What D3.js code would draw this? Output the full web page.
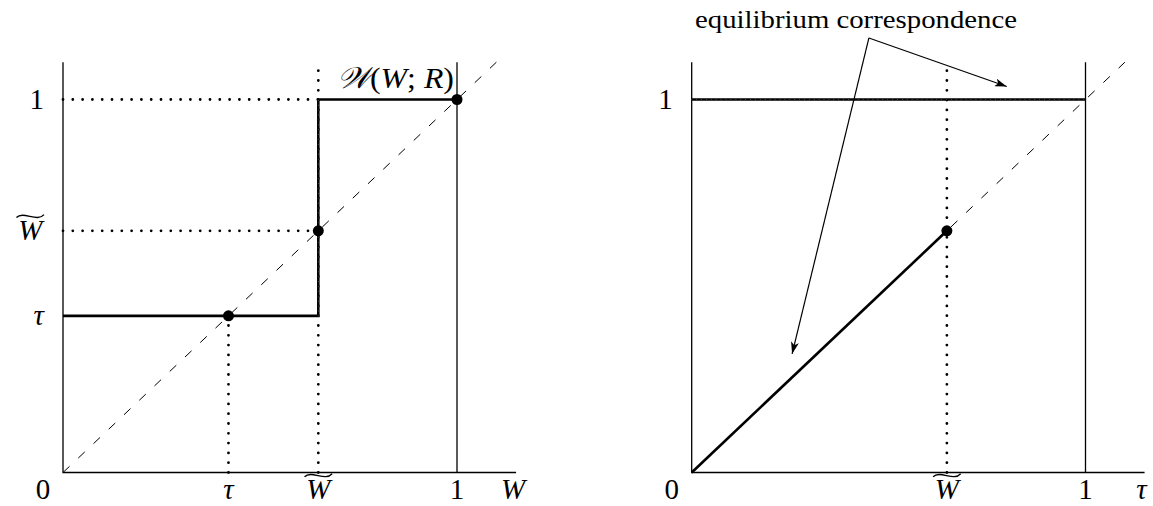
<!DOCTYPE html>
<html>
<head>
<meta charset="utf-8">
<script src="https://cdn.jsdelivr.net/npm/d3@7"></script>
<style>
  html, body { margin: 0; padding: 0; background: #fff; }
  svg text { font-family: "Liberation Serif", "DejaVu Serif", serif; fill: #000; }
</style>
</head>
<body>
<div id="chart"></div>
<script>
// values
const tau = 0.42;
const wTilde = 0.648;
const axisMax = { x: 1.15, y: 1.1 };
const diagMax = 1.1;

// left panel: the map W -> W(W;R)
const leftStep = [[0, tau], [wTilde, tau], [wTilde, 1], [1, 1]];
const leftDots = [[tau, tau], [wTilde, wTilde], [1, 1]];
const leftYTicks = [{ v: 1, t: '1' }, { v: wTilde, t: 'Wt' }, { v: tau, t: 'τ' }];
const leftXTicks = [{ v: tau, t: 'τ' }, { v: wTilde, t: 'Wt' }, { v: 1, t: '1' }];

// right panel: equilibrium correspondence
const rightTop = [[0, 1], [1, 1]];
const rightDiag = [[0, 0], [wTilde, wTilde]];
const rightDots = [[wTilde, wTilde]];
const rightXTicks = [{ v: wTilde, t: 'Wt' }, { v: 1, t: '1' }];
const rightYTicks = [{ v: 1, t: '1' }];
const noteApex = [0.45, 1.165];
const noteTargets = [[0.80, 1.035], [0.255, 0.318]];

const width = 1153, height = 506;
const fs = 29;
const svg = d3.select('#chart').append('svg')
    .attr('width', width).attr('height', height);

svg.append('defs').append('marker')
    .attr('id', 'arrow')
    .attr('viewBox', '0 0 12 8')
    .attr('refX', 12).attr('refY', 4)
    .attr('markerWidth', 12).attr('markerHeight', 8)
    .attr('markerUnits', 'userSpaceOnUse')
    .attr('orient', 'auto')
    .append('path').attr('d', 'M0,0 L12,4 L0,8 L3,4 Z').attr('fill', '#000');

const line = (x, y) => d3.line().x(d => x(d[0])).y(d => y(d[1]));

// label helper: W with a wide tilde drawn on top
const drawLabel = (g, t, px, py, anchor) => {
    if (t === 'Wt') {
        const w = fs * 0.95;
        const cx = anchor === 'end' ? px - w / 2 : px;
        g.append('text').attr('x', cx).attr('y', py)
            .attr('text-anchor', 'middle').style('font-style', 'italic')
            .style('font-size', fs + 'px').text('W');
        const top = py - fs * 0.8;
        g.append('path')
            .attr('d', `M${cx - w / 2},${top + 1} C${cx - w / 4},${top - 6} ${cx + w / 4},${top + 6} ${cx + w / 2},${top - 2}`)
            .attr('fill', 'none').attr('stroke', '#000').attr('stroke-width', 1.4);
    } else {
        g.append('text').attr('x', px).attr('y', py)
            .attr('text-anchor', anchor)
            .style('font-style', t === '1' || t === '0' ? 'normal' : 'italic')
            .style('font-size', fs + 'px').text(t);
    }
};

const drawPanel = (opts) => {
    const { x0, x1 } = opts;
    const x = d3.scaleLinear().domain([0, 1]).range([x0, x1]);
    const y = d3.scaleLinear().domain([0, 1]).range([472.5, 99.5]);
    const g = svg.append('g');
    const ln = line(x, y);

    // dashed 45 degree line
    g.append('path').datum([[0, 0], [diagMax, diagMax]]).attr('d', ln)
        .attr('fill', 'none').attr('stroke', '#000').attr('stroke-width', 1)
        .attr('stroke-dasharray', '9 12');

    // axes
    g.append('path').datum([[0, axisMax.y], [0, 0], [axisMax.x, 0]]).attr('d', ln)
        .attr('fill', 'none').attr('stroke', '#000').attr('stroke-width', 1.3);
    g.append('path').datum([[1, 0], [1, axisMax.y]]).attr('d', ln)
        .attr('fill', 'none').attr('stroke', '#000').attr('stroke-width', 1.3);

    // dotted guides
    g.selectAll('.guide').data(opts.guides).join('path').attr('class', 'guide')
        .attr('d', ln).attr('fill', 'none').attr('stroke', '#000')
        .attr('stroke-width', 2.8).attr('stroke-linecap', 'round')
        .attr('stroke-dasharray', '0 9.8');

    // thick graph
    opts.thick.forEach(pts => {
        g.append('path').datum(pts).attr('d', ln)
            .attr('fill', 'none').attr('stroke', '#000').attr('stroke-width', 2.6);
    });

    // dotted guide showing through the thick parts
    g.selectAll('.over').data(opts.overlay || []).join('path').attr('class', 'over')
        .attr('d', ln).attr('fill', 'none').attr('stroke', '#444')
        .attr('stroke-width', 1.2).attr('stroke-linecap', 'round')
        .attr('stroke-dasharray', '0 4.9');

    g.selectAll('circle').data(opts.dots).join('circle')
        .attr('cx', d => x(d[0])).attr('cy', d => y(d[1])).attr('r', 5.5).attr('fill', '#000');

    // tick labels
    opts.yTicks.forEach(d => drawLabel(g, d.t, x0 - 19, y(d.v) + 9, 'end'));
    drawLabel(g, '0', x0 - 20, 499, 'middle');
    opts.xTicks.forEach(d => drawLabel(g, d.t, x(d.v), 499, 'middle'));
    g.append('text').attr('x', x(axisMax.x) - 3).attr('y', 499)
        .attr('text-anchor', 'middle').style('font-style', 'italic')
        .style('font-size', fs + 'px').text(opts.xName);
    return { g, x, y };
};

// left panel
const left = drawPanel({
    x0: 63, x1: 457,
    guides: [
        [[0, 1], [wTilde, 1]],
        [[0, wTilde], [wTilde, wTilde]],
        [[tau, 0], [tau, tau]],
        [[wTilde, 0], [wTilde, axisMax.y]]
    ],
    overlay: [[[wTilde, tau], [wTilde, 1]]],
    thick: [leftStep],
    dots: leftDots,
    yTicks: leftYTicks,
    xTicks: leftXTicks,
    xName: 'W'
});
left.g.append('text').attr('x', 337).attr('y', 88)
    .style('font-size', '30px')
    .attr('textLength', 117).attr('lengthAdjust', 'spacingAndGlyphs')
    .html('<tspan font-style="italic">𝒲</tspan>(<tspan font-style="italic">W</tspan>; <tspan font-style="italic">R</tspan>)');

// right panel
const right = drawPanel({
    x0: 691.7, x1: 1085.5,
    guides: [
        [[wTilde, 0], [wTilde, axisMax.y]]
    ],
    overlay: [rightTop],
    thick: [rightTop, rightDiag],
    dots: rightDots,
    yTicks: rightYTicks,
    xTicks: rightXTicks,
    xName: 'τ'
});

right.g.append('text').attr('x', 856).attr('y', 28)
    .attr('text-anchor', 'middle').style('font-size', '26px')
    .attr('textLength', 322).attr('lengthAdjust', 'spacingAndGlyphs')
    .text('equilibrium correspondence');

noteTargets.forEach(tgt => {
    right.g.append('line')
        .attr('x1', right.x(noteApex[0])).attr('y1', right.y(noteApex[1]))
        .attr('x2', right.x(tgt[0])).attr('y2', right.y(tgt[1]))
        .attr('stroke', '#000').attr('stroke-width', 1.2)
        .attr('marker-end', 'url(#arrow)');
});
</script>
</body>
</html>
